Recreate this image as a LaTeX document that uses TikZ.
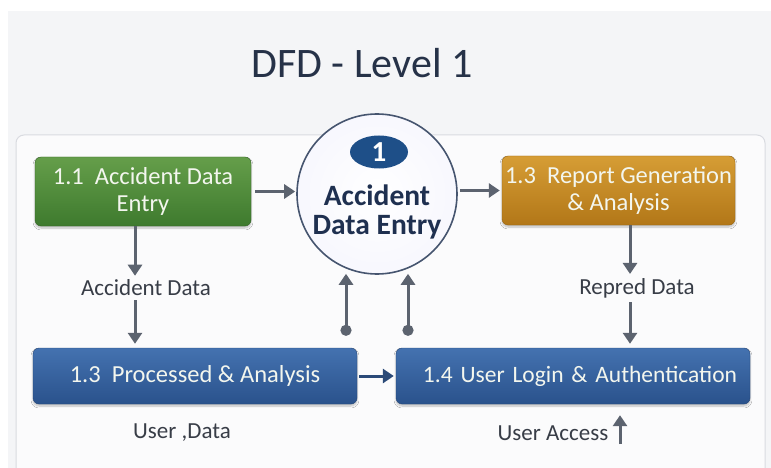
\documentclass[tikz,border=0pt]{standalone}
\usepackage{fontspec}
\setmainfont{Carlito}
\usetikzlibrary{arrows.meta,shapes.geometric,calc,shadows.blur}
\definecolor{bgpanel}{HTML}{F4F5F7}
\definecolor{inpanel}{HTML}{FBFBFC}
\definecolor{panelline}{HTML}{D9DBE0}
\definecolor{titlec}{HTML}{263248}
\definecolor{arrc}{HTML}{5C636F}
\definecolor{labc}{HTML}{383D47}
\definecolor{gtop}{HTML}{659E4A}
\definecolor{gbot}{HTML}{3E7A2E}
\definecolor{otop}{HTML}{D69D35}
\definecolor{obot}{HTML}{B27718}
\definecolor{btop}{HTML}{4472B0}
\definecolor{bbot}{HTML}{2A528C}
\definecolor{circline}{HTML}{46556F}
\definecolor{circtext}{HTML}{1F3050}
\definecolor{badge}{HTML}{1E4F88}
\definecolor{bluearr}{HTML}{2B4A78}
\definecolor{boxtext}{HTML}{F3F6EE}
\tikzset{
  procbox/.style={rectangle, rounded corners=6pt, align=center, text=boxtext,
    font=\fontsize{24.5}{27}\selectfont, inner sep=2pt,
    blur shadow={shadow xshift=0pt, shadow yshift=-2pt, shadow blur steps=6, shadow opacity=25}},
  greenbox/.style={procbox, top color=gtop, bottom color=gbot, draw=gbot!80!black},
  orangebox/.style={procbox, top color=otop, bottom color=obot, draw=obot!85!black},
  bluebox/.style={procbox, top color=btop, bottom color=bbot, draw=bbot!85!black},
  flowlab/.style={text=labc, font=\fontsize{23}{26}\selectfont, inner sep=1pt},
  arr/.style={draw=arrc, line width=3pt, -{Triangle[width=14pt,length=11pt]}},
  dotarr/.style={draw=arrc, line width=3pt, {Circle[length=11pt]}-{Triangle[width=14pt,length=11pt]}},
}
\begin{document}
\begin{tikzpicture}[x=1pt,y=-1pt]
\useasboundingbox (0,0) rectangle (771,468);
\clip (0,0) rectangle (771,468);
\fill[white] (0,0) rectangle (771,468);
\fill[bgpanel] (8,11) rectangle (771,468);
\draw[panelline, fill=inpanel, line width=1pt, rounded corners=8pt] (16,135) rectangle (765,490);

\node[text=titlec, font=\fontsize{42}{46}\selectfont] (title) at (362,63) {DFD - Level 1};

% central process
\node[circle, minimum size=160pt, draw=circline, line width=1.6pt,
      inner color=white, outer color=black!16!blue!3!white] (circ) at (377,194) {};
\node[ellipse, fill=badge, minimum width=58pt, minimum height=33pt, inner sep=0pt,
      text=white, font=\bfseries\fontsize{29}{29}\selectfont] (badge) at (379,152) {1};
\node[align=center, text=circtext, font=\bfseries\fontsize{29.5}{29.5}\selectfont] (ctext) at (377,212)
  {Accident\\Data Entry};

% boxes
\node[greenbox, minimum width=216pt, minimum height=69pt] (b11) at (143,191.5)
  {1.1\ \ Accident Data\\Entry};
\node[orangebox, minimum width=233pt, minimum height=69pt] (b13r) at (618.5,190.5)
  {1.3\ \ Report Generation\\\& Analysis};
\node[bluebox, minimum width=324pt, minimum height=56pt] (b13p) at (195,376)
  {1.3\ \ Processed \& Analysis};
\node[bluebox, minimum width=354pt, minimum height=56pt, text width=344pt, align=center,
      font=\fontsize{23.5}{27}\selectfont] (b14) at (573,376)
  {\hspace*{14pt}1.4 User Login \& Authentication};

% labels
\node[flowlab] (lab1) at (146,288) {Accident Data};
\node[flowlab] (lab2) at (637,288) {Repred Data};
\node[flowlab] (lab3) at (182,433) {User ,Data};
\node[flowlab] (lab4) at (553,433) {User Access};

\coordinate (x1) at (135,0);
\coordinate (x2) at (630,0);
\coordinate (x3) at (346,0);
\coordinate (x4) at (408,0);
\coordinate (uatail) at (620,444);

% connectors
\draw[arr, shorten <=4pt, shorten >=1pt] (b11.east) -- (b11.east -| circ.west);
\draw[arr, shorten <=2pt, shorten >=2pt] (circ.east |- b13r.west) -- (b13r.west);
\draw[arr, shorten >=3pt] (b11.south -| x1) -- (lab1.north -| x1);
\draw[arr, shorten <=3pt, shorten >=4pt] (lab1.south -| x1) -- (b13p.north -| x1);
\draw[arr, shorten >=3pt] (b13r.south -| x2) -- (lab2.north -| x2);
\draw[arr, shorten <=3pt, shorten >=4pt] (lab2.south -| x2) -- (b14.north -| x2);
\draw[dotarr, shorten <=12pt, shorten >=-1pt] (b13p.north -| x3) -- (x3 |- circ.south);
\draw[dotarr, shorten <=12pt, shorten >=-1pt] (b14.north -| x4) -- (x4 |- circ.south);
\draw[draw=bluearr, line width=3pt, -{Triangle[width=14pt,length=11pt]}, shorten <=2pt, shorten >=2pt]
  (b13p.east) -- (b14.west);
\draw[arr, shorten >=11pt] (uatail) -- (uatail |- b14.south);
\end{tikzpicture}
\end{document}
